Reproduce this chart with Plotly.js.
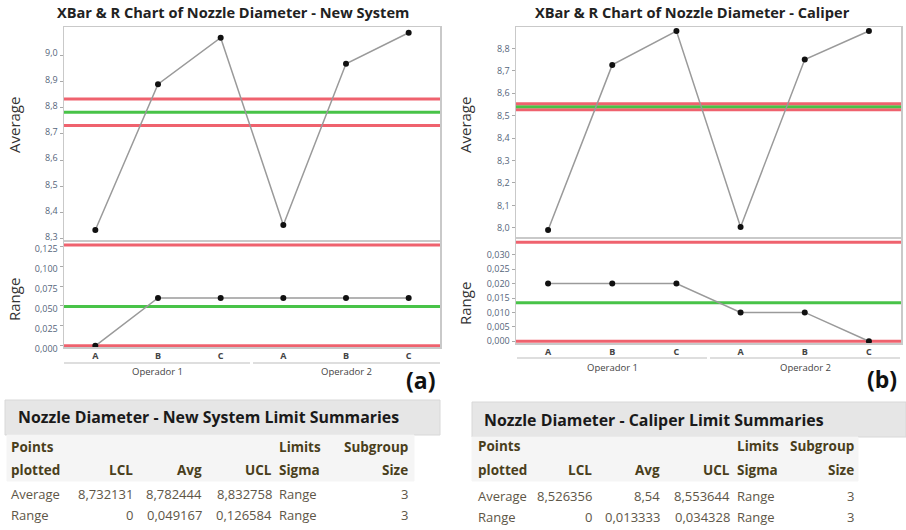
<!DOCTYPE html>
<html>
<head>
<meta charset="utf-8">
<script src="https://cdn.plot.ly/plotly-3.0.1.min.js"></script>
<style>html,body{margin:0;padding:0;background:#fff;}#chart{width:906px;height:530px;}</style>
</head>
<body>
<div id="chart"></div>
<script>
// ---------- data ----------
const categories = ['A', 'B', 'C', 'A', 'B', 'C'];
const operators = ['Operador 1', 'Operador 2'];
const avgNew = [8.334, 8.889, 9.066, 8.353, 8.967, 9.085];
const rangeNew = [0, 0.06, 0.06, 0.06, 0.06, 0.06];
const avgCal = [7.990, 8.727, 8.878, 8.004, 8.751, 8.878];
const rangeCal = [0.02, 0.02, 0.02, 0.01, 0.01, 0];
// [LCL, Avg, UCL]
const avgLimitsNew = [8.732131, 8.782444, 8.832758];
const rangeLimitsNew = [0, 0.049167, 0.126584];
const avgLimitsCal = [8.526356, 8.54, 8.553644];
const rangeLimitsCal = [0, 0.013333, 0.034328];
const subgroupSize = [3, 3];
const sigmaLabel = ['Range', 'Range'];
// axis tick values
const avgTicksNew = [8.3, 8.4, 8.5, 8.6, 8.7, 8.8, 8.9, 9.0];
const rangeTicksNew = [0, 0.025, 0.05, 0.075, 0.1, 0.125];
const avgTicksCal = [8.0, 8.1, 8.2, 8.3, 8.4, 8.5, 8.6, 8.7, 8.8];
const rangeTicksCal = [0, 0.005, 0.01, 0.015, 0.02, 0.025, 0.03];
const titles = ['XBar & R Chart of Nozzle Diameter - New System', 'XBar & R Chart of Nozzle Diameter - Caliper'];
const tableTitles = ['Nozzle Diameter - New System Limit Summaries', 'Nozzle Diameter - Caliper Limit Summaries'];
const rowNames = ['Average', 'Range'];

// ---------- helpers ----------
const W = 906, H = 530;
const px = x => x / W;
const py = y => 1 - y / H;
const fmt = v => String(v).replace('.', ',');
const xIdx = categories.map((_, i) => i);
const FONT = 'Open Sans, Noto Sans, sans-serif';

function trace(y, xa, ya) {
  return {
    x: xIdx, y: y, xaxis: xa, yaxis: ya, type: 'scatter', mode: 'lines+markers',
    line: {color: '#9a9a9a', width: 1.5},
    marker: {color: '#111', size: 6},
    cliponaxis: false, hoverinfo: 'skip', showlegend: false
  };
}

const data = [
  trace(avgNew, 'x', 'y'),
  trace(rangeNew, 'x2', 'y2'),
  trace(avgCal, 'x3', 'y3'),
  trace(rangeCal, 'x4', 'y4')
];

function xAxis(dom, anchor, showLabels) {
  return {
    domain: dom, anchor: anchor, range: [-0.5, 5.5],
    tickvals: xIdx, ticktext: categories, showticklabels: showLabels,
    ticks: '', showgrid: false, zeroline: false,
    showline: true, mirror: true, linecolor: '#c9c9c9', linewidth: 1.5,
    tickfont: {family: FONT, size: 9, color: '#444', weight: 'bold'},
    fixedrange: true
  };
}
function yAxis(dom, anchor, range, tv, fmtStr, shift) {
  return {
    domain: dom, anchor: anchor, range: range, tickmode: 'array', tickvals: tv,
    ticktext: tv.map(v => v.toFixed(fmtStr).replace('.', ',')),
    ticks: 'outside', ticklen: 3, tickcolor: '#aaa', tickwidth: 1,
    ticklabelshift: shift,
    showgrid: false, zeroline: false,
    showline: true, mirror: true, linecolor: '#c9c9c9', linewidth: 1.5,
    tickfont: {family: FONT, size: 9, color: '#55657a'},
    fixedrange: true
  };
}

const shapes = [];
function limits(vals, xa, ya) {
  const colors = ['rgba(236,70,85,0.85)', 'rgba(40,185,40,0.85)', 'rgba(236,70,85,0.85)'];
  vals.forEach((v, i) => {
    shapes.push({type: 'line', xref: xa + ' domain', yref: ya, x0: 0, x1: 1, y0: v, y1: v,
      line: {color: colors[i], width: 3}, layer: 'below'});
  });
}
limits(avgLimitsNew, 'x', 'y');
limits(rangeLimitsNew, 'x2', 'y2');
limits(avgLimitsCal, 'x3', 'y3');
limits(rangeLimitsCal, 'x4', 'y4');

// group brackets
function bracket(x0, x1, y) {
  shapes.push({type: 'line', xref: 'paper', yref: 'paper', x0: px(x0), x1: px(x1), y0: py(y), y1: py(y),
    line: {color: '#bdbdbd', width: 1}});
}
bracket(64, 250, 363); bracket(253, 440, 363);
bracket(517, 707, 358); bracket(710, 900, 358);

// table boxes
function rect(x0, x1, y0, y1, fill, lc) {
  shapes.push({type: 'rect', xref: 'paper', yref: 'paper', x0: px(x0), x1: px(x1), y0: py(y1), y1: py(y0),
    fillcolor: fill, line: {color: lc || fill, width: 1}, layer: 'below'});
}
rect(5, 440, 400, 435, '#e6e6e6', '#d8d8d8');
rect(7, 414, 435, 481, '#f5f5f5');
rect(472, 906, 402, 437, '#e6e6e6', '#d8d8d8');
rect(472, 858, 437, 481, '#f5f5f5');

const annotations = [];
function text(t, x, y, opts) {
  annotations.push(Object.assign({
    text: t, x: px(x), y: py(y), xref: 'paper', yref: 'paper', showarrow: false,
    xanchor: 'center', yanchor: 'middle',
    font: {family: FONT, size: 13, color: '#333'}
  }, opts || {}));
}
// chart titles
text(titles[0], 233, 12, {font: {family: FONT, size: 14.6, color: '#222', weight: 'bold'}});
text(titles[1], 692, 12, {font: {family: FONT, size: 14.6, color: '#222', weight: 'bold'}});
// axis titles
const axT = {textangle: -90, font: {family: FONT, size: 15, color: '#333'}};
text('Average', 14, 125, axT);
text('Range', 14, 300, axT);
text('Average', 465, 125, axT);
text('Range', 465, 303, axT);
// operators
const opF = {font: {family: FONT, size: 9.5, color: '#444'}};
text(operators[0], 157, 371, opF);
text(operators[1], 346, 371, opF);
text(operators[0], 612, 367, opF);
text(operators[1], 805, 367, opF);
// panel letters
text('(a)', 420, 380, {font: {family: FONT, size: 23, color: '#111', weight: 'bold'}});
text('(b)', 882, 379, {font: {family: FONT, size: 23, color: '#111', weight: 'bold'}});

// tables
function table(tIdx, tx, ty, cols, rows, avgL, rngL) {
  text(tableTitles[tIdx], tx, ty, {xanchor: 'left', font: {family: FONT, size: 15.9, color: '#1a1a1a', weight: 'bold'}});
  const hf = {family: FONT, size: 13.5, color: '#4a3f1c', weight: 'bold'};
  const df = {family: FONT, size: 13, color: '#5e5647'};
  text('Points', cols[0], rows[0], {xanchor: 'left', font: hf});
  text('plotted', cols[0], rows[1], {xanchor: 'left', font: hf});
  text('LCL', cols[1], rows[1], {xanchor: 'right', font: hf});
  text('Avg', cols[2], rows[1], {xanchor: 'right', font: hf});
  text('UCL', cols[3], rows[1], {xanchor: 'right', font: hf});
  text('Limits', cols[4], rows[0], {xanchor: 'left', font: hf});
  text('Sigma', cols[4], rows[1], {xanchor: 'left', font: hf});
  text('Subgroup', cols[5], rows[0], {xanchor: 'right', font: hf});
  text('Size', cols[5], rows[1], {xanchor: 'right', font: hf});
  [avgL, rngL].forEach((L, r) => {
    const yy = rows[2 + r];
    text(rowNames[r], cols[0], yy, {xanchor: 'left', font: df});
    text(fmt(L[0]), cols[1], yy, {xanchor: 'right', font: df});
    text(fmt(L[1]), cols[2], yy, {xanchor: 'right', font: df});
    text(fmt(L[2]), cols[3], yy, {xanchor: 'right', font: df});
    text(sigmaLabel[r], cols[4], yy, {xanchor: 'left', font: df});
    text(String(subgroupSize[r]), cols[5], yy, {xanchor: 'right', font: df});
  });
}
table(0, 16, 417, [9, 135, 204, 274, 277, 410], [447, 470, 494, 515], avgLimitsNew, rangeLimitsNew);
table(1, 482, 420, [476, 594, 662, 732, 735, 856], [446, 470, 496, 517], avgLimitsCal, rangeLimitsCal);

const layout = {
  width: W, height: H, margin: {l: 0, r: 0, t: 0, b: 0},
  paper_bgcolor: '#fff', plot_bgcolor: '#fff',
  showlegend: false,
  xaxis: xAxis([px(64), px(440)], 'y', false),
  yaxis: yAxis([py(240), py(27)], 'x', [8.296, 9.107], avgTicksNew, 1, -2),
  xaxis2: xAxis([px(64), px(440)], 'y2', true),
  yaxis2: yAxis([py(347), py(241)], 'x2', [-0.0015, 0.1315], rangeTicksNew, 3, 3),
  xaxis3: xAxis([px(516), px(901)], 'y3', false),
  yaxis3: yAxis([py(237), py(27)], 'x3', [7.959, 8.896], avgTicksCal, 1, 0),
  xaxis4: xAxis([px(516), px(901)], 'y4', true),
  yaxis4: yAxis([py(343), py(238)], 'x4', [-0.0006, 0.0358], rangeTicksCal, 3, 0),
  shapes: shapes,
  annotations: annotations
};
Plotly.newPlot('chart', data, layout, {displayModeBar: false, staticPlot: true});
</script>
</body>
</html>
